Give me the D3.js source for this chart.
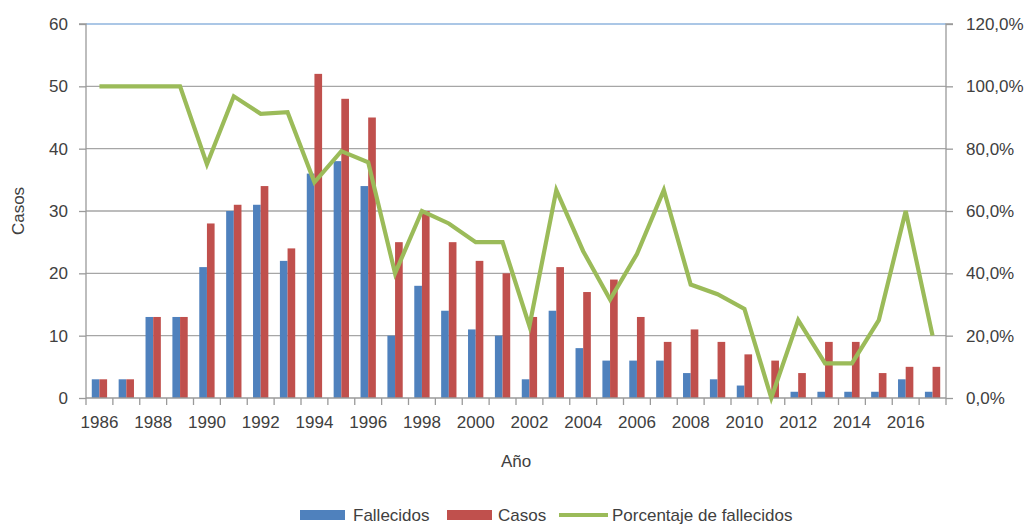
<!DOCTYPE html>
<html>
<head>
<meta charset="utf-8">
<script src="https://cdn.jsdelivr.net/npm/d3@7"></script>
<style>
  body { margin: 0; background: #fff; }
  text { font-family: "Liberation Sans", Arial, sans-serif; fill: #404040; }
</style>
</head>
<body>
<svg id="chart"></svg>
<script>
// data
const years = d3.range(1986, 2018);
const fallecidos = [3, 3, 13, 13, 21, 30, 31, 22, 36, 38, 34, 10, 18, 14, 11, 10,
  3, 14, 8, 6, 6, 6, 4, 3, 2, 0, 1, 1, 1, 1, 3, 1];
const casos = [3, 3, 13, 13, 28, 31, 34, 24, 52, 48, 45, 25, 30, 25, 22, 20,
  13, 21, 17, 19, 13, 9, 11, 9, 7, 6, 4, 9, 9, 4, 5, 5];
const porcentaje = [100, 100, 100, 100, 75, 96.8, 91.2, 91.7, 69.2, 79.2, 75.6, 40, 60, 56, 50, 50,
  23.1, 66.7, 47.1, 31.6, 46.2, 66.7, 36.4, 33.3, 28.6, 0, 25, 11.1, 11.1, 25, 60, 20];
const leftTicks = [0, 10, 20, 30, 40, 50, 60];
const rightTicks = [0, 20, 40, 60, 80, 100, 120];

const width = 1031, height = 524;
const margin = { left: 86, right: 85, top: 24, bottom: 126 };

const svg = d3.select("#chart").attr("width", width).attr("height", height);

const x = d3.scaleBand().domain(years).range([margin.left, width - margin.right]);
const yL = d3.scaleLinear().domain([0, 60]).range([height - margin.bottom, margin.top]);
const yR = d3.scaleLinear().domain([0, 120]).range([height - margin.bottom, margin.top]);

const x0 = margin.left, x1 = width - margin.right;
const bw = x.bandwidth() * 0.285;

// gridlines
svg.append("g").selectAll("line")
  .data(leftTicks.filter(d => d > 0))
  .enter().append("line")
  .attr("x1", x0).attr("x2", x1)
  .attr("y1", d => yL(d)).attr("y2", d => yL(d))
  .attr("stroke", d => d === 60 ? "#8fb4de" : "#a6a6a6")
  .attr("stroke-width", 1.4);

// bars
const g = svg.append("g").selectAll("g")
  .data(years).enter().append("g");

g.append("rect")
  .attr("x", (d, i) => x(d) + x.bandwidth() / 2 - bw)
  .attr("y", (d, i) => yL(fallecidos[i]))
  .attr("width", bw)
  .attr("height", (d, i) => yL(0) - yL(fallecidos[i]))
  .attr("fill", "#4f81bd");

g.append("rect")
  .attr("x", (d, i) => x(d) + x.bandwidth() / 2)
  .attr("y", (d, i) => yL(casos[i]))
  .attr("width", bw)
  .attr("height", (d, i) => yL(0) - yL(casos[i]))
  .attr("fill", "#c0504d");

// axes
const leftAxis = svg.append("g")
  .attr("transform", `translate(${x0},0)`)
  .call(d3.axisLeft(yL).tickValues(leftTicks).tickSize(7).tickPadding(11));

const rightAxis = svg.append("g")
  .attr("transform", `translate(${x1},0)`)
  .call(d3.axisRight(yR).tickValues(rightTicks).tickSize(7).tickPadding(13)
    .tickFormat(d => d3.format(".1f")(d).replace(".", ",") + "%"));

const bottomAxis = svg.append("g")
  .attr("transform", `translate(0,${yL(0)})`)
  .call(d3.axisBottom(x).tickValues(years.filter(d => d % 2 === 0)).tickSize(0).tickPadding(18));

// tick marks at category boundaries
svg.append("g").selectAll("line")
  .data(d3.range(years.length + 1))
  .enter().append("line")
  .attr("x1", i => x0 + i * x.step()).attr("x2", i => x0 + i * x.step())
  .attr("y1", yL(0)).attr("y2", yL(0) + 7)
  .attr("stroke", "#9a9a9a").attr("stroke-width", 1.3);

[leftAxis, rightAxis, bottomAxis].forEach(a => {
  a.select(".domain").attr("stroke", "#9a9a9a").attr("stroke-width", 1.3);
  a.selectAll(".tick line").attr("stroke", "#9a9a9a").attr("stroke-width", 1.3);
  a.selectAll("text").style("font-size", "17px").attr("fill", "#404040")
    .style("font-family", "'Liberation Sans', Arial, sans-serif");
});
leftAxis.select(".domain").attr("d", `M-7,${yL(60)}H0V${yL(0)}`);
rightAxis.select(".domain").attr("d", `M7,${yR(120)}H0V${yR(0)}`);
bottomAxis.select(".domain").attr("d", `M${x0},0H${x1}`);

// percentage line
const line = d3.line()
  .x((d, i) => x(years[i]) + x.bandwidth() / 2)
  .y(d => yR(d));

svg.append("path")
  .datum(porcentaje)
  .attr("d", line)
  .attr("fill", "none")
  .attr("stroke", "#9bbb59")
  .attr("stroke-width", 4.2)
  .attr("stroke-linejoin", "miter");

// axis titles
svg.append("text")
  .attr("transform", `translate(24,${yL(30)}) rotate(-90)`)
  .attr("text-anchor", "middle")
  .style("font-size", "17px")
  .text("Casos");

svg.append("text")
  .attr("x", (x0 + x1) / 2).attr("y", 467)
  .attr("text-anchor", "middle")
  .style("font-size", "17px")
  .text("Año");

// legend
const legend = svg.append("g").attr("transform", "translate(0,515)");
legend.append("rect").attr("x", 300).attr("y", -5).attr("width", 45).attr("height", 10).attr("fill", "#4f81bd");
legend.append("text").attr("x", 353).attr("y", 6).style("font-size", "17px").text("Fallecidos");
legend.append("rect").attr("x", 447).attr("y", -5).attr("width", 45).attr("height", 10).attr("fill", "#c0504d");
legend.append("text").attr("x", 498).attr("y", 6).style("font-size", "17px").text("Casos");
legend.append("line").attr("x1", 559).attr("x2", 608).attr("y1", 0).attr("y2", 0)
  .attr("stroke", "#9bbb59").attr("stroke-width", 4.2);
legend.append("text").attr("x", 612).attr("y", 6).style("font-size", "17px").text("Porcentaje de fallecidos");
</script>
</body>
</html>
